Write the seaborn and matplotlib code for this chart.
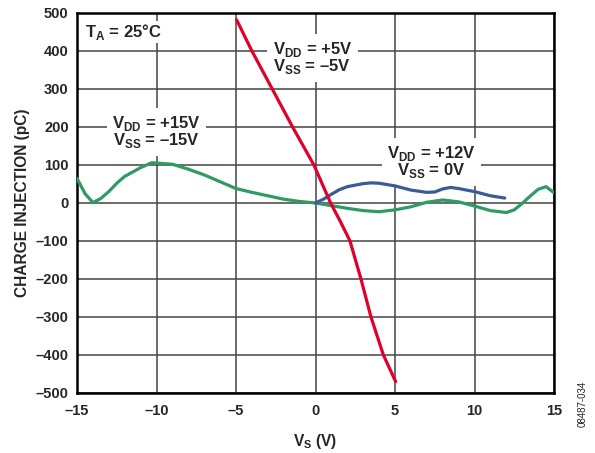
import matplotlib
matplotlib.use('Agg')
import matplotlib.pyplot as plt
import pandas as pd
import seaborn as sns
from matplotlib.ticker import FuncFormatter

# readings from the reference curves
vs_15 = [-15, -14.5, -14, -13.5, -13, -12.5, -12, -11, -10.3, -9, -8, -7, -6, -5, -4, -3, -2, -1,
         0, 1, 2, 3, 4, 5, 6, 7, 8, 9, 10, 11, 12, 12.5, 13, 13.5, 14, 14.5, 15]
qc_15 = [65, 25, 1, 12, 30, 52, 70, 93, 106, 102, 89, 74, 56, 38, 28, 19, 10, 4,
         0, -7, -14, -20, -23, -18, -10, 2, 8, 3, -8, -20, -25, -18, -1, 18, 36, 43, 27]

vs_12 = [0, 0.5, 1, 1.5, 2, 3, 3.5, 4, 5, 6, 7, 7.5, 8, 8.5, 9, 10, 11, 11.9]
qc_12 = [0, 10, 23, 35, 43, 51, 53, 52, 45, 34, 28, 29, 37, 41, 38, 30, 19, 13]

vs_5 = [-4.96, -4.0, -2.72, -1.44, -0.1, 0.95, 1.58, 2.17, 2.5, 2.86, 3.49, 4.27, 5.04]
qc_5 = [482, 400, 300, 200, 100, 0, -50, -100, -148, -200, -300, -400, -470]

x_ticks = [-15, -10, -5, 0, 5, 10, 15]
y_ticks = [-500, -400, -300, -200, -100, 0, 100, 200, 300, 400, 500]

sns.set_style('white')
plt.rcParams['font.family'] = ['Liberation Sans', 'DejaVu Sans']
plt.rcParams['font.weight'] = 'bold'
plt.rcParams['mathtext.fontset'] = 'custom'
plt.rcParams['mathtext.bf'] = 'Liberation Sans:bold'
plt.rcParams['mathtext.rm'] = 'Liberation Sans:bold'

fig = plt.figure(figsize=(5.95, 4.53), dpi=100)
ax = fig.add_axes([77 / 595, 1 - 393 / 453, (554 - 77) / 595, (393 - 13) / 453])

ax.set_xlim(-15, 15)
ax.set_ylim(-500, 500)
ax.set_xticks(x_ticks)
ax.set_yticks(y_ticks)
ax.grid(True, color='#444444', lw=1.1, zorder=0)
ax.set_axisbelow(True)

sns.lineplot(x=vs_15, y=qc_15, color='#2e9b62', lw=2.3, ax=ax, sort=False, estimator=None, zorder=3)
sns.lineplot(x=vs_12, y=qc_12, color='#3a5b98', lw=2.3, ax=ax, sort=False, estimator=None, zorder=3)
sns.lineplot(x=vs_5, y=qc_5, color='#e0002a', lw=2.3, ax=ax, sort=False, estimator=None, zorder=4)

for s in ax.spines.values():
    s.set_color('black')
    s.set_linewidth(1.8)

dash = FuncFormatter(lambda v, p: f'{v:.0f}'.replace('-', '\u2013'))
ax.xaxis.set_major_formatter(dash)
ax.yaxis.set_major_formatter(dash)
ax.tick_params(length=0, labelsize=10.5)
ax.tick_params(axis='x', pad=8)
ax.tick_params(axis='y', pad=6)

ax.set_ylabel('CHARGE INJECTION (pC)', fontsize=11.2, fontweight='bold', labelpad=4)
ax.set_xlabel(r'V$_\mathbf{S}$ (V)', fontsize=11.2, fontweight='bold', labelpad=10)

# label boxes sit over the grid but under the curves
box = dict(facecolor='white', edgecolor='none', pad=4)
ax.text(-14.5, 450, r'T$_\mathbf{A}$ = 25°C', fontsize=12, fontweight='bold', ha='left', va='center',
        bbox=dict(facecolor='white', edgecolor='none', pad=1), zorder=2)
ax.text(-10.0, 187, 'V$_\\mathbf{DD}$ = +15V\nV$_\\mathbf{SS}$ = \u201315V', fontsize=12, fontweight='bold',
        ha='center', va='center', linespacing=0.9, bbox=box, zorder=2)
ax.text(-0.2, 382, 'V$_\\mathbf{DD}$ = +5V\nV$_\\mathbf{SS}$ = \u20135V', fontsize=12, fontweight='bold',
        ha='center', va='center', linespacing=0.9, bbox=box, zorder=2)
ax.text(7.3, 108, 'V$_\\mathbf{DD}$ = +12V\nV$_\\mathbf{SS}$ = 0V', fontsize=12, fontweight='bold',
        ha='center', va='center', linespacing=0.9, bbox=box, zorder=2)

fig.text(583 / 595, 1 - 404 / 453, '08487-034', rotation=90, fontsize=7, fontweight='normal',
         ha='center', va='center')

fig.savefig('out.png', dpi=100)
